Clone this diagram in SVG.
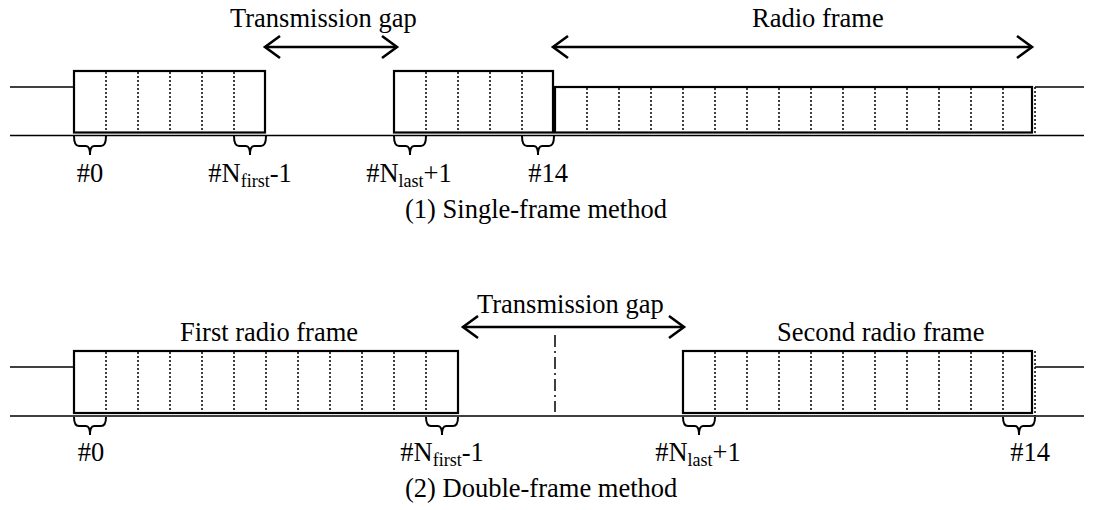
<svg xmlns="http://www.w3.org/2000/svg" width="1094" height="510" viewBox="0 0 1094 510">
<defs>
<style>
.t{font-family:"Liberation Serif","Times New Roman",serif;font-size:26.5px;fill:#000}
.ln{stroke:#000;stroke-width:1.6;fill:none}
.box{stroke:#000;stroke-width:2.2;fill:#fff}
.dot{stroke:#000;stroke-width:1.5;stroke-dasharray:2 2;fill:none}
.br{stroke:#000;stroke-width:2;fill:none}
.arr{stroke:#000;stroke-width:2.6;fill:none;marker-start:url(#ah);marker-end:url(#ah)}
</style>
<marker id="ah" markerUnits="userSpaceOnUse" viewBox="-18 -14 21 28" refX="0" refY="0" markerWidth="21" markerHeight="28" orient="auto-start-reverse">
<path d="M-15,-11 L0,0 L-15,11" fill="none" stroke="#000" stroke-width="2.6" stroke-linejoin="miter"/>
</marker>
</defs>
<rect width="1094" height="510" fill="#fff"/>

<g id="panel1">
<g id="p1-lines">
<line class="ln" x1="10" y1="87" x2="74" y2="87"/>
<line class="ln" x1="10" y1="135.5" x2="1084" y2="135.5"/>
<line class="ln" x1="1035" y1="87" x2="1084" y2="87"/>
</g>
<g id="p1-box1">
<rect class="box" x="74" y="71" width="191" height="61.5"/>
<path class="dot" d="M106,72V132M138,72V132M170,72V132M202,72V132M234,72V132"/>
</g>
<g id="p1-box2">
<rect class="box" x="394" y="71" width="159" height="61.5"/>
<path class="dot" d="M426,72V132M458,72V132M490,72V132M522,72V132"/>
</g>
<g id="p1-radioframe">
<rect class="box" x="555" y="87" width="477" height="45.5"/>
<path class="dot" d="M587,88V132M619,88V132M651,88V132M683,88V132M715,88V132M747,88V132M779,88V132M811,88V132M843,88V132M875,88V132M907,88V132M939,88V132M971,88V132M1003,88V132M1035,87V135"/>
</g>
<g id="p1-braces">
<path class="br" d="M74,136 Q74,146 79,146 L86,146 Q90,146 90,155 Q90,146 94,146 L101,146 Q106,146 106,136"/>
<path class="br" d="M234,136 Q234,146 239,146 L246,146 Q250,146 250,155 Q250,146 254,146 L261,146 Q266,146 266,136"/>
<path class="br" d="M394,136 Q394,146 399,146 L406,146 Q410,146 410,155 Q410,146 414,146 L421,146 Q426,146 426,136"/>
<path class="br" d="M522,136 Q522,146 527,146 L534,146 Q538,146 538,155 Q538,146 542,146 L549,146 Q554,146 554,136"/>
</g>
<g id="p1-connectors">
<line class="arr" x1="265" y1="47" x2="397" y2="47"/>
<line class="arr" x1="553" y1="47" x2="1032" y2="47"/>
</g>
<g id="p1-text">
<text class="t" x="230" y="27">Transmission gap</text>
<text class="t" x="752" y="27">Radio frame</text>
<text class="t" x="90" y="182" text-anchor="middle">#0</text>
<text class="t" x="250" y="182" text-anchor="middle">#N<tspan font-size="18" dy="5">first</tspan><tspan dy="-5">-1</tspan></text>
<text class="t" x="409" y="182" text-anchor="middle">#N<tspan font-size="18" dy="5">last</tspan><tspan dy="-5">+1</tspan></text>
<text class="t" x="548" y="182" text-anchor="middle">#14</text>
<text class="t" x="405" y="218">(1) Single-frame method</text>
</g>
</g>

<g id="panel2">
<g id="p2-lines">
<line class="ln" x1="10" y1="367" x2="74" y2="367"/>
<line class="ln" x1="10" y1="416" x2="1084" y2="416"/>
<line class="ln" x1="1035" y1="367" x2="1084" y2="367"/>
<line x1="555" y1="335" x2="555" y2="412" stroke="#000" stroke-width="1.5" stroke-dasharray="12 4 2 4"/>
</g>
<g id="p2-frame1">
<rect class="box" x="74" y="351" width="384" height="62"/>
<path class="dot" d="M106,352V412M138,352V412M170,352V412M202,352V412M234,352V412M266,352V412M298,352V412M330,352V412M362,352V412M394,352V412M426,352V412"/>
</g>
<g id="p2-frame2">
<rect class="box" x="683" y="351" width="349" height="62"/>
<path class="dot" d="M715,352V412M747,352V412M779,352V412M811,352V412M843,352V412M875,352V412M907,352V412M939,352V412M971,352V412M1003,352V412M1035,351V416"/>
</g>
<g id="p2-braces">
<path class="br" d="M74,417 Q74,426 79,426 L86,426 Q90,426 90,435 Q90,426 94,426 L101,426 Q106,426 106,417"/>
<path class="br" d="M426,417 Q426,426 431,426 L438,426 Q442,426 442,435 Q442,426 446,426 L453,426 Q458,426 458,417"/>
<path class="br" d="M683,417 Q683,426 688,426 L695,426 Q699,426 699,435 Q699,426 703,426 L710,426 Q715,426 715,417"/>
<path class="br" d="M1003,417 Q1003,426 1008,426 L1015,426 Q1019,426 1019,435 Q1019,426 1023,426 L1030,426 Q1035,426 1035,417"/>
</g>
<g id="p2-connectors">
<line class="arr" x1="463" y1="327" x2="684" y2="327"/>
</g>
<g id="p2-text">
<text class="t" x="477" y="313">Transmission gap</text>
<text class="t" x="180" y="341">First radio frame</text>
<text class="t" x="777" y="341">Second radio frame</text>
<text class="t" x="91" y="461" text-anchor="middle">#0</text>
<text class="t" x="442" y="461" text-anchor="middle">#N<tspan font-size="18" dy="5">first</tspan><tspan dy="-5">-1</tspan></text>
<text class="t" x="698" y="461" text-anchor="middle">#N<tspan font-size="18" dy="5">last</tspan><tspan dy="-5">+1</tspan></text>
<text class="t" x="1030" y="461" text-anchor="middle">#14</text>
<text class="t" x="405" y="497">(2) Double-frame method</text>
</g>
</g>
</svg>
